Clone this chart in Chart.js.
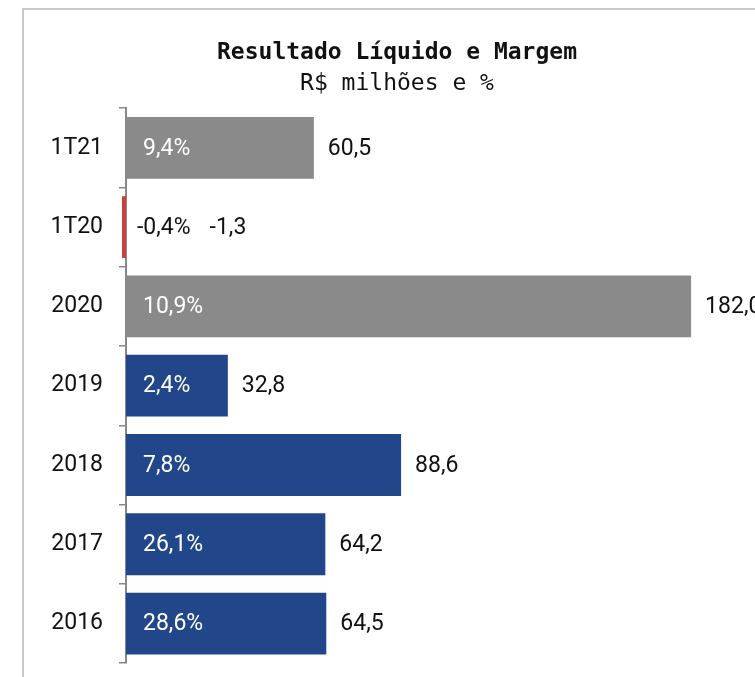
<!DOCTYPE html>
<html lang="pt-BR">
<head>
  <meta charset="UTF-8" />
  <title>Resultado Líquido e Margem</title>
  <script src="https://cdn.jsdelivr.net/npm/chart.js"></script>
  <style>
    * { box-sizing: border-box; margin: 0; padding: 0; }
    body {
      background: #fff;
      width: 755px;
      height: 677px;
      overflow: hidden;
      position: relative;
      font-family: Roboto, sans-serif;
    }
    #frame {
      position: absolute;
      left: 22px;
      top: 8px;
      width: 900px;
      height: 800px;
      border-top: 2px solid #c9c9c9;
      border-left: 2px solid #c9c9c9;
    }
    #chart {
      position: absolute;
      left: 24px;
      top: 9px;
    }
  </style>
</head>
<body>
  <div id="frame"></div>
  <canvas id="chart" width="746" height="684"></canvas>

  <script>
    // data
    const categories = ['1T21', '1T20', '2020', '2019', '2018', '2017', '2016'];
    const netIncome = [60.5, -1.3, 182.0, 32.8, 88.6, 64.2, 64.5];
    const margins = [9.4, -0.4, 10.9, 2.4, 7.8, 26.1, 28.6];
    const barColors = ['#8a8a8a', '#c9403c', '#8a8a8a', '#21468a', '#21468a', '#21468a', '#21468a'];

    const fmt = v => v.toFixed(1).replace('.', ',');

    // labels: margin inside the bar, value after it
    const barLabels = {
      id: 'barLabels',
      afterDatasetsDraw(chart) {
        const ctx = chart.ctx;
        const meta = chart.getDatasetMeta(0);
        ctx.save();
        ctx.font = '23px Roboto';
        ctx.textBaseline = 'middle';
        ctx.textAlign = 'left';
        meta.data.forEach((bar, i) => {
          const pct = fmt(margins[i]) + '%';
          const val = fmt(netIncome[i]);
          if (netIncome[i] >= 0) {
            ctx.fillStyle = '#ffffff';
            ctx.fillText(pct, bar.base + 17, bar.y + 1);
            ctx.fillStyle = '#111111';
            ctx.fillText(val, bar.x + 14, bar.y + 1);
          } else {
            const px = bar.base + 11;
            ctx.fillStyle = '#111111';
            ctx.fillText(pct, px, bar.y + 1);
            ctx.fillText(val, px + ctx.measureText(pct).width + 19, bar.y + 1);
          }
        });
        ctx.restore();
      }
    };

    new Chart(document.getElementById('chart'), {
      type: 'bar',
      data: {
        labels: categories,
        datasets: [{
          data: netIncome,
          backgroundColor: barColors,
          borderWidth: 0,
          barPercentage: 0.78,
          categoryPercentage: 1,
          clip: false
        }]
      },
      options: {
        indexAxis: 'y',
        responsive: false,
        animation: false,
        layout: { padding: { left: 23, right: 23, top: 0, bottom: 14 } },
        plugins: {
          legend: { display: false },
          tooltip: { enabled: false },
          title: {
            display: true,
            text: 'Resultado Líquido e Margem',
            color: '#111',
            font: { family: 'DejaVu Sans Mono', size: 23, weight: 'bold' },
            padding: { top: 30, bottom: 4 }
          },
          subtitle: {
            display: true,
            text: 'R$ milhões e %',
            color: '#111',
            font: { family: 'DejaVu Sans Mono', size: 23 },
            padding: { top: 0, bottom: 10 }
          }
        },
        scales: {
          x: {
            display: false,
            min: 0,
            max: 200
          },
          y: {
            afterFit: s => { s.width = 79; },
            grid: {
              display: true,
              drawOnChartArea: false,
              drawTicks: true,
              tickLength: 7,
              color: '#888',
              lineWidth: 1.5,
              offset: true
            },
            border: { display: true, color: '#888', width: 2 },
            ticks: {
              color: '#111',
              padding: 16,
              font: { family: 'Roboto', size: 23 }
            }
          }
        }
      },
      plugins: [barLabels]
    });
  </script>
</body>
</html>
